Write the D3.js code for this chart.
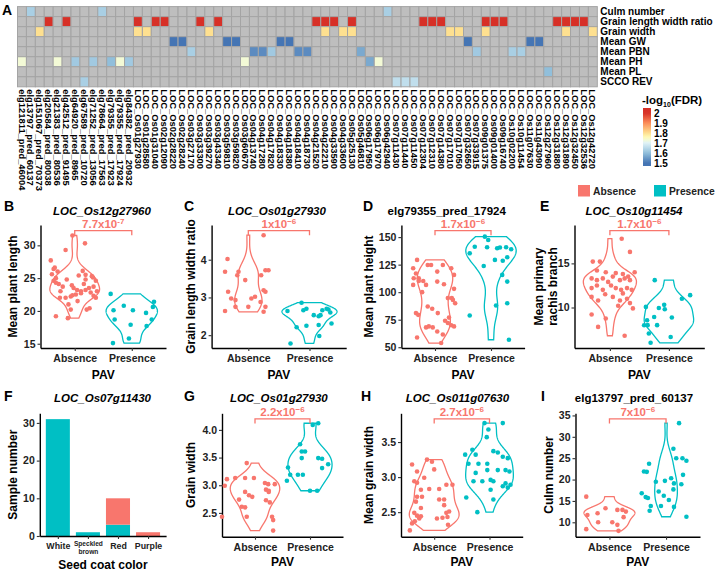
<!DOCTYPE html>
<html><head><meta charset="utf-8">
<script src="https://cdn.jsdelivr.net/npm/d3@7"></script>
<style>
html,body{margin:0;padding:0;background:#fff;}
svg{display:block;}
text{font-family:"Liberation Sans",Arial,Helvetica,sans-serif;}
</style></head><body>
<svg id="chart" width="720" height="571"></svg>
<script>
// ================= DATA =================
const traits = ["Culm number","Grain length width ratio","Grain width","Mean GW","Mean PBN","Mean PH","Mean PL","SCCO REV"];
const genes = [
"elg121811_pred_46004","elg13797_pred_60137","elg151067_pred_70373","elg20584_pred_80038","elg21383_pred_80536","elg42512_pred_91495","elg64920_pred_8965","elg67589_pred_10720","elg71252_pred_13056","elg78664_pred_17563","elg79355_pred_17923","elg79355_pred_17924","elg84382_pred_20932",
"LOC_Os01g27930","LOC_Os01g28580","LOC_Os01g31040","LOC_Os02g12090","LOC_Os02g28220","LOC_Os02g28240","LOC_Os03g27170","LOC_Os03g33300","LOC_Os03g39270","LOC_Os03g43340","LOC_Os03g59810","LOC_Os03g59820","LOC_Os03g60670",
"LOC_Os04g13740","LOC_Os04g17280","LOC_Os04g17820","LOC_Os04g18330","LOC_Os04g18380","LOC_Os04g18410","LOC_Os04g18730","LOC_Os04g21520","LOC_Os04g22210","LOC_Os04g33590","LOC_Os04g33600",
"LOC_Os05g25130","LOC_Os05g46810","LOC_Os06g17950","LOC_Os06g17970","LOC_Os06g42940",
"LOC_Os07g11430","LOC_Os07g11440","LOC_Os07g11450","LOC_Os07g12304","LOC_Os07g12310","LOC_Os07g14380","LOC_Os07g17010","LOC_Os07g17050","LOC_Os07g32650","LOC_Os07g33915",
"LOC_Os09g01375","LOC_Os09g01400","LOC_Os09g16740","LOC_Os10g02200","LOC_Os10g11454","LOC_Os11g07630","LOC_Os11g43090",
"LOC_Os12g27960","LOC_Os12g31880","LOC_Os12g31890","LOC_Os12g32450","LOC_Os12g32536","LOC_Os12g42720"];
// significant cells: [trait index, gene index, -log10(FDR)]
const heatCells = [
 [0,1,1.63],[0,9,1.63],[0,41,1.63],
 [1,3,2],[1,5,2],[1,13,2],[1,15,2],[1,16,2],[1,20,2],[1,22,2],[1,33,2],[1,34,2],[1,35,2],[1,37,2],[1,45,2],[1,46,2],[1,47,2],[1,52,2],[1,53,2],[1,54,2],[1,60,2],[1,61,2],[1,62,2],[1,63,2],
 [2,2,1.8],[2,13,1.8],[2,14,1.8],[2,21,1.8],[2,34,1.8],[2,36,1.8],[2,37,1.8],[2,48,1.8],[2,49,1.8],[2,52,1.8],[2,61,1.8],[2,64,1.8],
 [3,17,1.5],[3,18,1.5],[3,23,1.5],[3,24,1.5],[3,29,1.5],[3,30,1.5],[3,50,1.5],[3,57,1.5],[3,58,1.5],
 [4,19,1.63],[4,26,1.53],[4,27,1.53],[4,28,1.62],[4,31,1.53],[4,32,1.53],[4,38,1.57],[4,51,1.62],[4,55,1.63],[4,56,1.63],
 [5,0,1.73],[5,4,1.73],[5,6,1.62],[5,8,1.62],[5,10,1.6],[5,11,1.73],[5,12,1.62],[5,25,1.73],[5,39,1.57],[5,40,1.73],
 [6,59,1.6],
 [7,7,1.63],[7,42,1.66],[7,43,1.66],[7,44,1.66]
];
const fdrTicks = [1.5,1.6,1.7,1.8,1.9,2];

const pav = ["Absence","Presence"];
// points: [value, horizontal jitter in category units]
const bAbsence = [[31.5,-0.04],[30.3,0.18],[29.3,-0.16],[27.7,-0.42],[25.5,0.19],[26.4,-0.37],[26.0,-0.30],[25.6,-0.4],[25.0,-0.33],[24.6,-0.37],[24.1,-0.28],[23.7,-0.21],[23.0,-0.25],[22.0,-0.26],[22.0,-0.16],[22.2,-0.07],[22.5,0.02],[21.0,-0.11],[20.2,-0.07],[19.2,-0.33],[18.9,-0.12],[23.0,0.11],[23.2,0.19],[23.5,0.25],[24.1,0.16],[25.4,0.07],[26.1,0.14],[24.8,0.19],[25.1,0.32],[24.6,0.37],[23.7,0.33],[23.0,0.39],[22.0,0.37],[20.4,0.26],[20.2,0.21],[23.5,-0.02],[23.2,0.04],[22.7,0.11],[24.8,-0.14],[22.4,-0.04],[21.5,0.05],[22.8,0.28],[23.9,-0.05],[26.6,-0.35],[25.3,0.3],[24.3,-0.33],[22.3,0.33]];
const bPresence = [[22.6,-0.37],[20.8,-0.14],[20.1,-0.32],[20.1,0.02],[19.7,0.25],[20.6,0.37],[21.4,0.39],[18.7,-0.30],[17.9,-0.02],[17.7,0.26],[15.8,-0.05],[15.1,-0.33],[18.7,0.35]];
const cAbsence = [[4.65,0.25],[4.02,-0.34],[3.68,-0.38],[3.68,-0.16],[3.72,0.28],[3.72,0.33],[3.59,-0.18],[3.46,-0.05],[3.15,-0.33],[2.97,-0.28],[2.93,-0.21],[2.97,0.05],[3.02,0.11],[3.15,0.28],[2.88,0.2],[2.75,0],[2.75,-0.21],[2.75,0.28],[2.64,-0.38],[2.62,0.25],[3.19,0.25],[3.59,0.21]];
const cPresence = [[2.64,-0.36],[2.86,-0.13],[2.66,-0.1],[2.70,-0.05],[2.53,0.07],[2.50,0.15],[2.53,0.18],[2.66,0.21],[2.70,0.28],[2.68,0.31],[2.60,0.34],[2.31,0.36],[2.27,0.15],[2.25,-0.05],[2.21,-0.21],[1.98,0.16],[1.78,-0.31]];
const dAbsence = [[129.3,-0.32],[121.7,-0.39],[124.7,-0.13],[124.7,-0.07],[118.7,0.04],[124.7,0.14],[121.7,0.29],[115.7,0.34],[112.7,-0.29],[112.7,-0.38],[110.2,-0.29],[110.2,-0.21],[106.6,-0.39],[106.6,-0.16],[109.6,0.04],[107.2,0.16],[103,0.34],[94.6,0.3],[94.6,0.23],[93,0.32],[87,-0.13],[84.9,-0.05],[81,-0.34],[79.4,-0.3],[81,0.05],[68.9,-0.11],[68,-0.16],[68,-0.04],[64.3,0.04],[58.9,-0.32],[53.8,0.11],[61.5,0.14],[72,0.23],[70,0.29],[68.9,0.34],[74,0.18],[76.9,0.25],[117,-0.34],[100,-0.23],[90,0.36]];
const dPresence = [[135.3,-0.38],[141.3,-0.29],[150.4,-0.11],[147.4,-0.05],[140.8,-0.07],[139.9,0.11],[140.5,0.16],[140.8,0.27],[139,0.36],[129.3,0.07],[128.6,0.21],[131.7,0.29],[123.8,-0.13],[115.7,0.2],[109.6,0.29],[87.9,0.09],[90,0.29],[78.8,-0.38],[56.8,0.32]];
const eAbsence = [[17.8,0.2],[16.3,0.34],[15.2,-0.29],[15.2,-0.17],[14.2,-0.22],[14.0,-0.07],[13.9,0.1],[13.8,0.22],[13.5,0.31],[14.0,0.42],[13.3,-0.31],[13.1,-0.22],[13.3,-0.12],[12.9,-0.03],[13.5,0.05],[13.1,0.17],[13.3,0.25],[13.1,0.34],[12.2,-0.31],[12.5,-0.22],[12.0,-0.12],[12.5,0.02],[12.2,0.1],[12.0,0.19],[12.2,0.29],[12.0,0.37],[11.2,-0.31],[10.8,-0.2],[11.2,0.05],[10.8,0.17],[11.0,0.29],[10.5,0.34],[9.9,0.39],[10.2,0.14],[11.5,-0.08],[9.2,-0.31],[8.75,-0.07],[7.8,-0.2],[6.8,0.25],[11.6,0.22]];
const ePresence = [[13.1,-0.24],[10.07,-0.39],[9.95,-0.17],[10.3,-0.08],[9.8,-0.07],[8.86,0.05],[8.93,-0.25],[8.55,-0.37],[7.99,-0.42],[8.0,-0.36],[8.0,-0.2],[7.05,-0.34],[6.0,-0.31],[6.66,0.03],[11.0,0.22],[11.4,0.36]];
const gAbsence = [[3.40,-0.15],[3.11,-0.51],[3.13,-0.36],[3.13,-0.18],[3.13,-0.02],[2.99,-0.55],[2.88,-0.18],[2.79,-0.05],[2.82,-0.11],[3.04,0.18],[3.02,0.24],[3.02,0.36],[2.92,0.2],[2.90,0.25],[2.73,0.2],[2.69,0.27],[2.61,-0.24],[2.60,-0.18],[2.43,-0.15],[2.43,-0.6],[2.43,0.31],[2.37,0.33],[2.18,0.33],[2.88,0.25],[2.74,-0.29]];
const gPresence = [[3.74,-0.18],[4.09,0.05],[4.12,0.15],[3.61,-0.15],[3.61,-0.09],[3.49,-0.15],[3.49,0.15],[3.48,0.22],[3.38,0.33],[3.31,0.22],[3.32,-0.4],[3.19,-0.36],[3.19,-0.22],[3.19,-0.13],[3.08,-0.42],[2.90,0],[2.90,0.13]];
const hAbsence = [[3.18,-0.4],[3.08,-0.31],[3.25,-0.13],[3.22,-0.04],[3.11,0],[2.99,-0.18],[2.94,-0.36],[2.92,-0.31],[2.82,-0.24],[2.72,-0.31],[2.72,-0.22],[2.65,-0.33],[2.56,-0.24],[2.49,-0.36],[2.45,-0.31],[2.44,-0.24],[2.41,-0.27],[2.34,-0.4],[2.24,-0.44],[2.83,-0.09],[2.83,0.09],[2.68,0.09],[2.68,0.18],[2.60,0.18],[2.41,0.05],[2.42,0.15],[2.43,0.24],[2.49,0.22],[2.51,0.27],[2.89,0.22],[2.89,0.33],[2.32,0.25],[2.37,-0.35]];
const hPresence = [[3.77,-0.09],[3.68,-0.02],[3.57,-0.05],[3.32,-0.44],[3.39,-0.31],[3.32,-0.25],[3.37,0.07],[3.35,0.15],[3.77,0.24],[3.29,0.24],[3.27,0.33],[3.19,-0.2],[3.19,-0.38],[3.19,-0.04],[3.10,-0.04],[3.10,0.15],[3.06,-0.25],[3.10,0.29],[3.08,0.36],[2.96,0.02],[2.94,-0.13],[2.94,-0.29],[2.94,0.07],[2.87,0.24],[2.85,0.33],[2.89,0.38],[2.82,0.02],[2.91,0.29],[2.71,-0.42],[2.68,0.07],[2.50,-0.22]];
const iAbsence = [[16.0,-0.41],[11.7,-0.39],[8.4,-0.41],[12.1,-0.21],[10.0,-0.2],[13.3,-0.07],[10.0,0.05],[12.9,0.14],[8.0,0.16],[9.4,0.14],[12.9,0.23],[11.2,0.25],[12.5,0.29]];
const iPresence = [[33.2,0.23],[27.2,0.13],[25.0,0.18],[25.0,0.29],[24.4,0.36],[23.7,-0.3],[21.9,-0.39],[21.8,-0.34],[21.1,0.3],[20.3,0.09],[19.7,-0.02],[19.5,-0.18],[19.1,0.14],[18.9,0.27],[17.2,-0.13],[17.7,0.13],[16.8,-0.43],[15.9,-0.36],[15.7,-0.32],[16.2,-0.04],[15.2,0.05],[13.8,-0.27],[13.8,-0.09],[13.6,0.14],[12.7,-0.29],[11.3,0.36]];

const seedColors = ["White","Speckled brown","Red","Purple"];
const seedPresence = [31,1,3,0];
const seedAbsence = [0,0,7,1];

// ================= DRAW =================
const FONT = '"Liberation Sans",Arial,Helvetica,sans-serif';
const COL = {Absence:"#F8766D", Presence:"#00BFC4"};
const svg = d3.select("#chart");

// ---------- Panel A: heatmap ----------
const fdrColor = d3.scaleLinear()
  .domain([1.5,1.6,1.7,1.75,1.8,1.9,2.0])
  .range(["#4575b4","#91bfdb","#e0f3f8","#ffffbf","#fee090","#fc8d59","#d73027"]).clamp(true);
const hm = {x0:17.5, x1:597.3, y0:6.6, y1:86.8};
const hx = d3.scaleBand().domain(genes).range([hm.x0,hm.x1]);
const hy = d3.scaleBand().domain(traits).range([hm.y0,hm.y1]);
const cellMap = new Map(heatCells.map(d=>[d[0]+"|"+d[1], d[2]]));
const allCells = traits.flatMap((t,ti)=>genes.map((g,gi)=>({t,g,v:cellMap.get(ti+"|"+gi)})));
const gA = svg.append("g");
gA.selectAll("rect").data(allCells).join("rect")
  .attr("x",d=>hx(d.g)).attr("y",d=>hy(d.t))
  .attr("width",hx.bandwidth()).attr("height",hy.bandwidth())
  .attr("fill",d=>d.v==null?"#BEBEBE":fdrColor(d.v))
  .attr("stroke","#A4A4A4").attr("stroke-width",1);
gA.selectAll("text.row").data(traits).join("text").attr("class","row")
  .attr("x",hm.x1+3).attr("y",d=>hy(d)+hy.bandwidth()/2).attr("dy","0.36em")
  .attr("font-size",10).attr("font-weight","bold").text(d=>d);
gA.selectAll("text.col").data(genes).join("text").attr("class","col")
  .attr("transform",d=>`translate(${hx(d)+hx.bandwidth()/2},${hm.y1+2.5}) rotate(90)`)
  .attr("dy","0.36em").attr("font-size",9.4).attr("font-weight","bold").text(d=>d);
svg.append("text").attr("x",2).attr("y",15).attr("font-size",14).attr("font-weight","bold").text("A");

// colour legend
const lg = svg.append("g");
const ly = d3.scaleLinear().domain([1.5,2]).range([163,113]);
const grad = svg.append("defs").append("linearGradient").attr("id","fdrGrad").attr("x1",0).attr("x2",0).attr("y1",1).attr("y2",0);
d3.range(0,1.0001,0.05).forEach(t=>{
  const v = ly.invert(166 + (108-166)*t);
  grad.append("stop").attr("offset",t).attr("stop-color",fdrColor(v));
});
lg.append("rect").attr("x",643).attr("y",108).attr("width",8).attr("height",58).attr("fill","url(#fdrGrad)");
lg.selectAll("text.tk").data(fdrTicks).join("text").attr("class","tk")
  .attr("x",654).attr("y",d=>ly(d)).attr("dy","0.36em").attr("font-size",10).attr("font-weight","bold")
  .text(d=>d3.format("")(d));
const lt = lg.append("text").attr("x",642).attr("y",104).attr("font-size",11.5).attr("font-weight","bold");
lt.append("tspan").text("-log");
lt.append("tspan").attr("font-size",7).attr("dy",2.5).text("10");
lt.append("tspan").attr("dy",-2.5).text("(FDR)");

// ---------- helpers ----------
function kde(vals, n=200){
  const v = vals.slice().sort(d3.ascending);
  const sd = d3.deviation(v), iqr = d3.quantile(v,0.75)-d3.quantile(v,0.25);
  let lo = Math.min(sd, iqr/1.34); if(!(lo>0)) lo = sd;
  const bw = 0.9*lo*Math.pow(v.length,-0.2);
  const a = v[0], b = v[v.length-1];
  return d3.range(n).map(i=>{
    const y = a+(b-a)*i/(n-1); let s=0;
    for(const x of v){const z=(y-x)/bw; s+=Math.exp(-0.5*z*z);}
    return [y, s/(v.length*bw*Math.sqrt(2*Math.PI))];
  });
}
function styleAxis(a, fs){
  a.attr("font-family",FONT).attr("font-size",fs||10.5).attr("font-weight","bold");
  a.select(".domain").attr("stroke","#000").attr("stroke-width",1.4);
  a.selectAll(".tick line").attr("stroke","#333").attr("stroke-width",1.1);
  a.selectAll(".tick text").attr("fill","#222");
}
function panelText(c){
  svg.append("text").attr("x",c.letterX).attr("y",c.letterY).attr("font-size",14).attr("font-weight","bold").text(c.letter);
  svg.append("text").attr("x",c.titleX).attr("y",c.titleY).attr("text-anchor","middle")
    .attr("font-size",11.5).attr("font-weight","bold").attr("font-style",c.italic?"italic":"normal").text(c.title);
  c.ytitle.forEach((t,i)=>{
    svg.append("text").attr("transform",`translate(${c.ytitleX[i]},${(c.top+c.bottom)/2}) rotate(-90)`)
      .attr("text-anchor","middle").attr("dy","0.36em").attr("font-size",12).attr("font-weight","bold").text(t);
  });
  svg.append("text").attr("x",(c.left+c.right)/2).attr("y",c.xtitleY).attr("text-anchor","middle")
    .attr("font-size",12).attr("font-weight","bold").text(c.xtitle);
}

function violinPanel(c){
  const g = svg.append("g");
  const x = d3.scalePoint().domain(pav).range([c.left,c.right]).padding(0.6);
  const step = x.step();
  const y = d3.scaleLinear().domain(c.domain).range([c.bottom,c.top]);
  const ya = g.append("g").attr("transform",`translate(${c.left},0)`)
    .call(d3.axisLeft(y).tickValues(c.ticks).tickSize(3).tickSizeOuter(0).tickPadding(2).tickFormat(d3.format(c.fmt||"")));
  styleAxis(ya);
  const xa = g.append("g").attr("transform",`translate(0,${c.bottom})`)
    .call(d3.axisBottom(x).tickSize(3).tickSizeOuter(0).tickPadding(3.5));
  styleAxis(xa,10.5);
  // violins: densities scaled by area (shared max across the panel)
  const groups = [c.abs,c.pres].map(data=>kde(data.map(d=>d[0])));
  const w = d3.scaleLinear().domain([0,d3.max(groups.flat(),d=>d[1])]).range([0,0.45*step]);
  groups.forEach((dens,i)=>{
    const cx = x(pav[i]);
    const area = d3.area().y(d=>y(d[0])).x0(d=>cx-w(d[1])).x1(d=>cx+w(d[1]));
    g.append("path").attr("d",area(dens)).attr("fill","none").attr("stroke",COL[pav[i]]).attr("stroke-width",1.3);
  });
  [c.abs,c.pres].forEach((data,i)=>{
    g.selectAll(null).data(data).join("circle")
      .attr("cx",d=>x(pav[i])+d[1]*step).attr("cy",d=>y(d[0])).attr("r",2.3)
      .attr("fill",COL[pav[i]]);
  });
  // significance bracket
  const x1 = x(pav[0]), x2 = x(pav[1]);
  g.append("path").attr("d",`M${x1},${c.bracketY+4.6}V${c.bracketY}H${x2}V${c.bracketY+4.6}`)
    .attr("fill","none").attr("stroke",COL.Absence).attr("stroke-width",1.3);
  const t = g.append("text").attr("x",(x1+x2)/2).attr("y",c.bracketY-2.4).attr("text-anchor","middle")
    .attr("fill",COL.Absence).attr("font-size",11.5).attr("font-weight","bold");
  t.append("tspan").text(c.pMant+"x10");
  t.append("tspan").attr("dy",-4.5).attr("font-size",8).text(c.pExp);
  panelText(c);
}

const row1 = {top:225, bottom:348, bracketY:230.7, letterY:211, titleY:214.5, xtitleY:378.5};
const row2 = {top:413.3, bottom:536.7, bracketY:418.8, letterY:400.5, titleY:402, xtitleY:566};

violinPanel(Object.assign({}, row1, {left:40.5,right:166,domain:[14.35,33.1],ticks:[15,20,25,30],abs:bAbsence,pres:bPresence,
  letter:"B",letterX:4,title:"LOC_Os12g27960",italic:true,titleX:102,ytitle:["Mean plant length"],ytitleX:[13],xtitle:"PAV",pMant:"7.7",pExp:"-7"}));
violinPanel(Object.assign({}, row1, {left:211.6,right:346.2,domain:[1.66,4.92],ticks:[2,3,4],abs:cAbsence,pres:cPresence,
  letter:"C",letterX:184,title:"LOC_Os01g27930",italic:true,titleX:277,ytitle:["Grain length width ratio"],ytitleX:[191],xtitle:"PAV",pMant:"1",pExp:"\u22126"}));
violinPanel(Object.assign({}, row1, {left:401.4,right:524.6,domain:[49.3,161],ticks:[50,75,100,125,150],abs:dAbsence,pres:dPresence,
  letter:"D",letterX:363,title:"elg79355_pred_17924",italic:false,titleX:446.7,ytitle:["Mean plant height"],ytitleX:[369],xtitle:"PAV",pMant:"1.7",pExp:"\u22126"}));
violinPanel(Object.assign({}, row1, {left:574.5,right:704.3,domain:[5.41,19.35],ticks:[10,15],abs:eAbsence,pres:ePresence,
  letter:"E",letterX:540,title:"LOC_Os10g11454",italic:true,titleX:634,ytitle:["Mean primary","rachis branch"],ytitleX:[539,552.7],xtitle:"PAV",pMant:"1.7",pExp:"\u22126"}));
violinPanel(Object.assign({}, row2, {left:222,right:343,domain:[2.07,4.30],ticks:[2.5,3,3.5,4],fmt:".1f",abs:gAbsence,pres:gPresence,
  letter:"G",letterX:184,title:"LOC_Os01g27930",italic:true,titleX:278.8,ytitle:["Grain width"],ytitleX:[191],xtitle:"PAV",pMant:"2.2",pExp:"\u22126"}));
violinPanel(Object.assign({}, row2, {left:401,right:522.7,domain:[2.15,3.91],ticks:[2.5,3,3.5],fmt:".1f",abs:hAbsence,pres:hPresence,
  letter:"H",letterX:361,title:"LOC_Os011g07630",italic:true,titleX:457.5,ytitle:["Mean grain width"],ytitleX:[369],xtitle:"PAV",pMant:"2.7",pExp:"\u22126"}));
violinPanel(Object.assign({}, row2, {left:575.5,right:700,domain:[6.63,35.5],ticks:[10,15,20,25,30,35],abs:iAbsence,pres:iPresence,
  letter:"I",letterX:541,title:"elg13797_pred_60137",italic:false,titleX:634,ytitle:["Culm number"],ytitleX:[549],xtitle:"PAV",pMant:"7",pExp:"\u22126"}));

// ---------- Panel F: stacked bars ----------
(function(){
  const c = Object.assign({}, row2, {left:39.8,right:166.1,letter:"F",letterX:4,title:"LOC_Os07g11430",italic:true,titleX:102.5,
    ytitle:["Sample number"],ytitleX:[12.5],xtitle:"Seed coat color",xtitleY:568.5,bottom:536});
  const g = svg.append("g");
  const x = d3.scalePoint().domain(seedColors).range([c.left,c.right]).padding(0.6);
  const bw = 0.8*x.step();
  const y = d3.scaleLinear().domain([0,32.55]).range([c.bottom,c.top]);
  const stack = seedColors.map((s,i)=>({s,pres:seedPresence[i],abs:seedAbsence[i]}));
  g.selectAll("rect.p").data(stack).join("rect").attr("class","p")
    .attr("x",d=>x(d.s)-bw/2).attr("width",bw).attr("y",d=>y(d.pres)).attr("height",d=>y(0)-y(d.pres)).attr("fill",COL.Presence);
  g.selectAll("rect.a").data(stack).join("rect").attr("class","a")
    .attr("x",d=>x(d.s)-bw/2).attr("width",bw).attr("y",d=>y(d.pres+d.abs)).attr("height",d=>y(d.pres)-y(d.pres+d.abs)).attr("fill",COL.Absence);
  const ya = g.append("g").attr("transform",`translate(${c.left},0)`)
    .call(d3.axisLeft(y).tickValues([0,10,20,30]).tickSize(3).tickSizeOuter(0).tickPadding(2));
  styleAxis(ya);
  const xa = g.append("g").attr("transform",`translate(0,${c.bottom})`)
    .call(d3.axisBottom(x).tickSize(3).tickSizeOuter(0).tickPadding(3.5));
  styleAxis(xa,8.8);
  xa.selectAll(".tick text").each(function(d){
    const parts = d.split(" ");
    if(parts.length>1){
      const t = d3.select(this).text(null).attr("font-size",6.6);
      parts.forEach((p,i)=>t.append("tspan").attr("x",0).attr("dy",i===0?"0.71em":"1.25em").text(p));
      t.attr("dy",null).attr("y",5.2);
    }
  });
  panelText(c);
})();

// ---------- PAV legend ----------
const pl = svg.append("g");
const legX = d3.scalePoint().domain(pav).range([578,654]);
pl.selectAll("rect").data(pav).join("rect").attr("x",d=>legX(d)).attr("y",185).attr("width",12).attr("height",11.5).attr("fill",d=>COL[d]);
pl.selectAll("text").data(pav).join("text").attr("x",d=>legX(d)+15).attr("y",190.8).attr("dy","0.36em")
  .attr("font-size",10.3).attr("font-weight","bold").attr("fill","#222").text(d=>d);
</script></body></html>
